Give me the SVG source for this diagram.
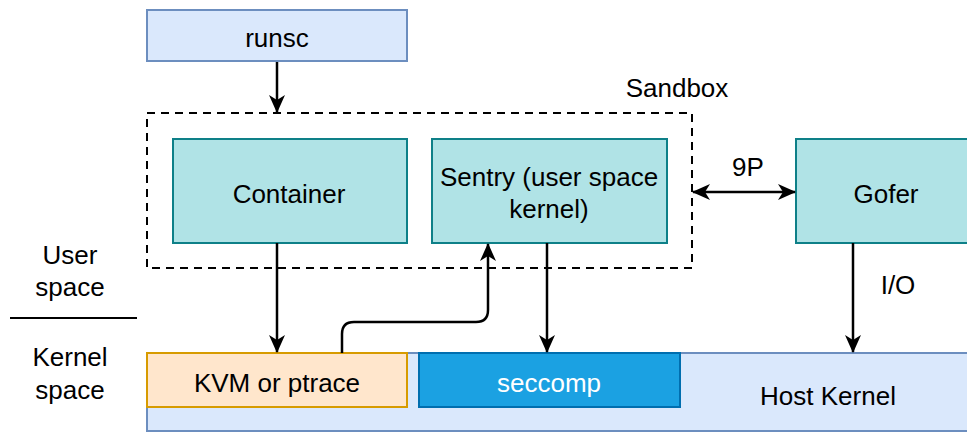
<svg xmlns="http://www.w3.org/2000/svg" width="967" height="432" viewBox="0 0 967 432">
<defs>
<style>
text{font-family:"Liberation Sans",Arial,Helvetica,sans-serif;font-size:26px;fill:#000;text-anchor:middle}
.teal{fill:#b0e3e6;stroke:#0e8088;stroke-width:2}
.blue{fill:#dae8fc;stroke:#6c8ebf;stroke-width:2}
.edge{fill:none;stroke:#000;stroke-width:2.5}
</style>
<marker id="ahl" viewBox="0 0 18 16" refX="17" refY="8" markerWidth="18" markerHeight="16" markerUnits="userSpaceOnUse" orient="auto-start-reverse">
<path d="M0,0 L18,8 L0,16 L5,8 Z" fill="#000"/>
</marker>
</defs>
<rect width="967" height="432" fill="#fff"/>
<g id="hostkernel"><rect class="blue" x="147" y="353" width="830" height="78"/><text x="828" y="405">Host Kernel</text></g>
<g id="runsc"><rect class="blue" x="147" y="10" width="260" height="51"/><text x="277" y="47">runsc</text></g>
<g id="sandbox"><rect x="147" y="113" width="545" height="155" fill="none" stroke="#000" stroke-width="2" stroke-dasharray="8 6"/><text x="677" y="97">Sandbox</text></g>
<g id="container"><rect class="teal" x="173" y="139" width="234" height="104"/><text x="289" y="203">Container</text></g>
<g id="sentry"><rect class="teal" x="432" y="139" width="235" height="104"/><text x="549" y="186">Sentry (user space</text><text x="549" y="218">kernel)</text></g>
<g id="gofer"><rect class="teal" x="796" y="139" width="180" height="104"/><text x="886" y="203">Gofer</text></g>
<g id="kvm"><rect x="147" y="353" width="260" height="54" fill="#ffe6cc" stroke="#d79b00" stroke-width="2"/><text x="277" y="392">KVM or ptrace</text></g>
<g id="seccomp"><rect x="419" y="353" width="261" height="54" fill="#1ba1e2" stroke="#006eaf" stroke-width="2"/><text x="549" y="392" style="fill:#fff">seccomp</text></g>
<g id="labels"><text x="70" y="264">User</text><text x="70" y="296">space</text><line x1="10" y1="318" x2="137" y2="318" stroke="#000" stroke-width="2"/><text x="70" y="366">Kernel</text><text x="70" y="399">space</text></g>
<g id="connectors">
<path class="edge" d="M277,62 V112" marker-end="url(#ahl)"/>
<path class="edge" d="M277,243 V352" marker-end="url(#ahl)"/>
<path class="edge" d="M547,243 V352" marker-end="url(#ahl)"/>
<path class="edge" d="M853,243 V352" marker-end="url(#ahl)"/>
<path class="edge" d="M342,353 V334 Q342,322 354,322 H476 Q488,322 488,310 V244" marker-end="url(#ahl)"/>
<path class="edge" d="M693,192 H795" marker-start="url(#ahl)" marker-end="url(#ahl)"/>
<text x="748" y="176">9P</text>
<text x="898" y="294">I/O</text>
</g>
</svg>
